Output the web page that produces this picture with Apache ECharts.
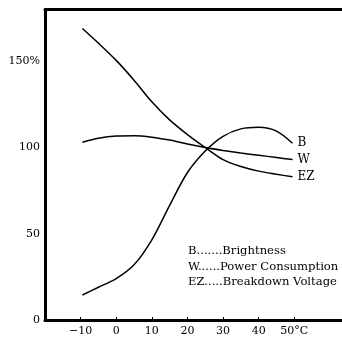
<!DOCTYPE html>
<html>
<head>
<meta charset="utf-8">
<script src="https://cdn.jsdelivr.net/npm/echarts@6/dist/echarts.min.js"></script>
<style>
  html, body { margin: 0; padding: 0; background: #fff; }
  #lineChart { width: 342px; height: 337px; }
</style>
</head>
<body>
<div id="lineChart"></div>
<script>
// temperature (°C) for every curve point
let temps = [-9.5, -5, 0, 5, 10, 15, 20, 25, 30, 35, 40, 45, 49.5]
// B = brightness, W = power consumption, EZ = breakdown voltage (%)
let bValues = [14.5, 19, 24, 32, 46.5, 66.5, 85.5, 98, 106.5, 110.8, 111.7, 109.5, 102.5]
let wValues = [103, 105.3, 106.6, 106.8, 106, 104.3, 102, 100, 98.3, 96.8, 95.5, 94.2, 93]
let ezValues = [169, 160.5, 150.5, 139, 126.5, 116, 107.5, 100, 93, 89, 86.3, 84.5, 83]
let xTicks = [-10, 0, 10, 20, 30, 40, 50]
let yTicks = [0, 50, 100, 150]
let noteLines = ['B.......Brightness', 'W......Power Consumption', 'EZ.....Breakdown Voltage']

let font = 'DejaVu Serif'

function pairs(vals) {
  return temps.map((t, i) => [t, vals[i]])
}

function makeSeries(name, vals) {
  return {
    name: name,
    type: 'line',
    smooth: 0.3,
    symbol: 'none',
    lineStyle: { color: '#000', width: 1.5 },
    endLabel: {
      show: true,
      formatter: '{a}',
      distance: 5,
      color: '#000',
      fontFamily: font,
      fontSize: 12
    },
    data: pairs(vals)
  }
}

let chart = echarts.init(document.getElementById('lineChart'))
let option = {
  animation: false,
  grid: { left: 45, right: 0, top: 9.5, bottom: 16.5 },
  xAxis: [
    {
      type: 'value',
      min: -20,
      max: 63.4,
      interval: 10,
      splitLine: { show: false },
      axisLine: { onZero: false, lineStyle: { color: '#000', width: 3 } },
      axisTick: {
        inside: true,
        length: 3,
        customValues: xTicks,
        lineStyle: { color: '#000', width: 1 }
      },
      axisLabel: {
        customValues: xTicks,
        margin: 6,
        color: '#000',
        fontFamily: font,
        fontSize: 11,
        formatter: function (v) {
          if (v === 50) return '50°C'
          return v === -10 ? '\u221210' : String(v)
        }
      }
    },
    {
      type: 'value',
      position: 'top',
      min: -20,
      max: 63.4,
      splitLine: { show: false },
      axisLine: { onZero: false, lineStyle: { color: '#000', width: 3 } },
      axisTick: { show: false },
      axisLabel: { show: false }
    }
  ],
  yAxis: {
    type: 'value',
    min: 0,
    max: 180,
    interval: 50,
    splitLine: { show: false },
    axisLine: { show: true, onZero: false, lineStyle: { color: '#000', width: 3 } },
    axisTick: { show: false },
    axisLabel: {
      customValues: yTicks,
      margin: 5,
      color: '#000',
      fontFamily: font,
      fontSize: 11,
      formatter: function (v) {
        return v === 150 ? '150%' : String(v)
      }
    }
  },
  graphic: noteLines.map((t, i) => ({
    type: 'text',
    left: 188,
    top: 245 + i * 15.5,
    style: { text: t, fill: '#000', font: '11.6px "' + font + '"' }
  })),
  series: [
    makeSeries('B', bValues),
    makeSeries('W', wValues),
    makeSeries('EZ', ezValues)
  ]
}
chart.setOption(option)
</script>
</body>
</html>
